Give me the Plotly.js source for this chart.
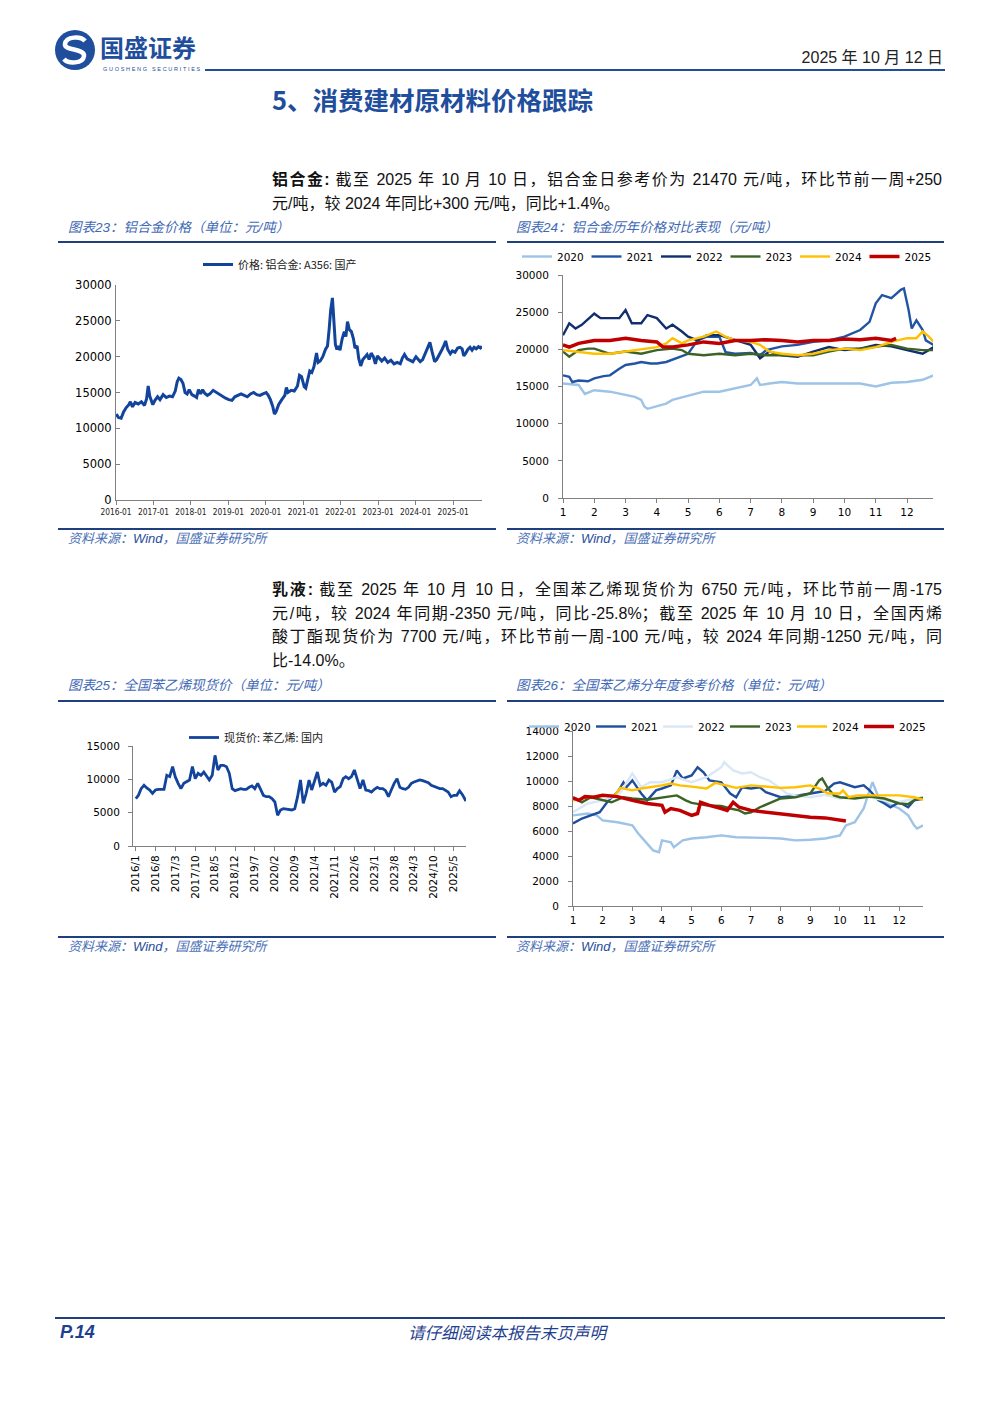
<!DOCTYPE html>
<html><head><meta charset="utf-8">
<script src="https://cdn.plot.ly/plotly-3.0.1.min.js"></script>
<style>
html,body{margin:0;padding:0;background:#fff;}
#page{position:relative;width:1000px;height:1414px;overflow:hidden;background:#fff;}
#plot{position:absolute;left:0;top:0;width:1000px;height:1414px;z-index:0;}
.t{position:absolute;white-space:nowrap;font-family:"Liberation Sans","Noto Sans CJK SC",sans-serif;z-index:2;}
.rule{position:absolute;z-index:2;background:#1F3F7F;}
.cap{font-size:13.5px;font-style:italic;color:#3F69B5;line-height:16px;}
.src{font-size:13px;font-style:italic;color:#4A6FB5;line-height:16px;}
.para{font-size:16px;color:#111;line-height:22px;width:670px;text-align:justify;}
.full{text-align-last:justify;}
</style></head>
<body><div id="page">
<div id="plot"></div>

<svg class="t" style="left:54px;top:29px" width="42" height="42" viewBox="0 0 42 42">
  <circle cx="21" cy="21" r="20" fill="#1F4E9C"/>
  <path d="M31 12 C27 7,12 7,11 15 C10 22,31 19,30 27 C29 35,14 35,10 30" stroke="#fff" stroke-width="4.5" fill="none"/>
</svg>
<div class="t" style="left:100px;top:35px;font-size:24px;font-weight:bold;color:#1F4E9C;line-height:24px;font-family:'Noto Sans CJK SC';">国盛证券</div>
<div class="t" style="left:103px;top:66px;font-size:5.5px;color:#1F4E9C;letter-spacing:1.7px;line-height:6px;">GUOSHENG SECURITIES</div>
<div class="t" style="right:57px;top:48px;font-size:16px;color:#222;line-height:20px;">2025 年 10 月 12 日</div>
<div class="rule" style="left:205px;top:69px;width:740px;height:1.5px;background:#1F4E9C;"></div>
<div class="t" style="left:272px;top:84px;font-size:25.5px;font-weight:bold;color:#1F4E9C;line-height:30px;font-family:'Noto Sans CJK SC';">5、消费建材原材料价格跟踪</div>

<div class="t para full" style="left:272px;top:169px;"><b>铝合金:</b> 截至 2025 年 10 月 10 日，铝合金日参考价为 21470 元/吨，环比节前一周+250</div>
<div class="t para" style="left:272px;top:193px;">元/吨，较 2024 年同比+300 元/吨，同比+1.4%。</div>

<div class="t cap" style="left:68px;top:220px;">图表23：铝合金价格（单位：元/吨）</div>
<div class="t cap" style="left:516px;top:220px;">图表24：铝合金历年价格对比表现（元/吨）</div>
<div class="rule" style="left:58px;top:241px;width:438px;height:2px;"></div>
<div class="rule" style="left:507px;top:241px;width:437px;height:2px;"></div>
<div class="rule" style="left:58px;top:528px;width:438px;height:2px;"></div>
<div class="rule" style="left:507px;top:528px;width:437px;height:2px;"></div>
<div class="t src" style="left:68px;top:531px;">资料来源：<span style="color:#1F4E9C">Wind</span>，国盛证券研究所</div>
<div class="t src" style="left:516px;top:531px;">资料来源：<span style="color:#1F4E9C">Wind</span>，国盛证券研究所</div>

<div class="t para full" style="left:272px;top:579px;"><b>乳液:</b> 截至 2025 年 10 月 10 日，全国苯乙烯现货价为 6750 元/吨，环比节前一周-175</div>
<div class="t para full" style="left:272px;top:603px;">元/吨，较 2024 年同期-2350 元/吨，同比-25.8%；截至 2025 年 10 月 10 日，全国丙烯</div>
<div class="t para full" style="left:272px;top:626px;">酸丁酯现货价为 7700 元/吨，环比节前一周-100 元/吨，较 2024 年同期-1250 元/吨，同</div>
<div class="t para" style="left:272px;top:650px;">比-14.0%。</div>

<div class="t cap" style="left:68px;top:678px;">图表25：全国苯乙烯现货价（单位：元/吨）</div>
<div class="t cap" style="left:516px;top:678px;">图表26：全国苯乙烯分年度参考价格（单位：元/吨）</div>
<div class="rule" style="left:58px;top:700px;width:438px;height:2px;"></div>
<div class="rule" style="left:507px;top:700px;width:437px;height:2px;"></div>
<div class="rule" style="left:58px;top:936px;width:438px;height:2px;"></div>
<div class="rule" style="left:507px;top:936px;width:437px;height:2px;"></div>
<div class="t src" style="left:68px;top:939px;">资料来源：<span style="color:#1F4E9C">Wind</span>，国盛证券研究所</div>
<div class="t src" style="left:516px;top:939px;">资料来源：<span style="color:#1F4E9C">Wind</span>，国盛证券研究所</div>

<div class="rule" style="left:55px;top:1317px;width:890px;height:2px;"></div>
<div class="t" style="left:60px;top:1321px;font-size:18px;font-weight:bold;font-style:italic;color:#1F3F8F;line-height:22px;">P.14</div>
<div class="t" style="left:408px;top:1322px;font-size:16.5px;font-style:italic;color:#1F3F8F;line-height:20px;font-family:'Noto Sans CJK SC';">请仔细阅读本报告末页声明</div>
</div>
<script>
// ---------- Chart 23: aluminium alloy A356 price ----------
const alDates = ['2016-01-04','2016-01-25','2016-02-20','2016-03-15','2016-04-10','2016-05-05','2016-05-20','2016-06-10','2016-07-05','2016-08-05','2016-09-05','2016-10-05','2016-10-25','2016-11-10','2016-11-25','2016-12-10','2016-12-25',
'2017-01-15','2017-02-10','2017-03-05','2017-04-05','2017-05-05','2017-06-05','2017-07-05','2017-08-01','2017-08-20','2017-09-05','2017-09-25','2017-10-15','2017-11-05','2017-11-25','2017-12-15',
'2018-01-10','2018-02-05','2018-02-25','2018-03-15','2018-04-05','2018-04-25','2018-05-15','2018-06-10','2018-07-05','2018-08-05','2018-09-05','2018-10-05','2018-11-05','2018-12-05',
'2019-01-05','2019-02-05','2019-03-05','2019-04-05','2019-05-05','2019-06-05','2019-07-05','2019-08-05','2019-09-05','2019-10-05','2019-11-05','2019-12-05',
'2020-01-05','2020-01-25','2020-02-15','2020-03-10','2020-03-25','2020-04-10','2020-05-05','2020-06-05','2020-07-05','2020-07-20','2020-08-05','2020-09-05','2020-10-05','2020-11-05','2020-11-25','2020-12-15',
'2021-01-10','2021-01-25','2021-02-15','2021-03-05','2021-03-25','2021-04-15','2021-05-10','2021-05-25','2021-06-15','2021-07-10','2021-08-05','2021-08-25','2021-09-10','2021-09-25','2021-10-12','2021-10-25','2021-11-10','2021-11-25','2021-12-10','2021-12-25',
'2022-01-15','2022-02-05','2022-02-20','2022-03-08','2022-03-25','2022-04-15','2022-05-05','2022-05-20','2022-06-10','2022-06-25','2022-07-15','2022-08-05','2022-08-25','2022-09-15','2022-10-05','2022-10-25','2022-11-15','2022-12-05','2022-12-25',
'2023-01-15','2023-02-05','2023-03-05','2023-04-05','2023-05-05','2023-06-05','2023-07-05','2023-08-05','2023-08-25','2023-09-15','2023-10-10','2023-11-05','2023-12-05',
'2024-01-05','2024-01-25','2024-02-15','2024-03-10','2024-04-05','2024-04-25','2024-05-20','2024-06-10','2024-07-05','2024-07-25','2024-08-20','2024-09-15','2024-10-05','2024-10-20','2024-11-10','2024-12-05','2024-12-25',
'2025-01-20','2025-02-15','2025-03-10','2025-03-30','2025-04-15','2025-05-05','2025-05-25','2025-06-15','2025-07-05','2025-07-25','2025-08-15','2025-09-05','2025-09-25','2025-10-10'];
const alPrice = [12000,11500,11400,12300,12900,13300,13700,13000,13600,13400,13700,13200,14100,15900,14500,14000,13300,
13900,14400,14000,14700,14300,14500,14400,15200,16500,17000,16800,16300,15000,14800,15400,
14700,14500,14300,15400,14800,15400,14900,14600,14800,15300,15000,14700,14400,14200,
14000,13900,14400,14600,14800,14600,14400,14800,15000,14700,14600,14800,
15000,14600,14000,13000,12000,12300,13300,14000,14600,15700,15000,15300,15200,15900,17400,17200,
15800,15600,16800,18000,17800,18600,20500,19200,19400,20000,21000,21500,23800,26500,28200,24500,21700,21000,21500,20900,
22500,23500,22800,24900,23800,23500,22500,21200,21500,19800,18700,19600,19900,20300,19600,20500,20000,19000,20100,
19800,19400,19800,19200,19500,19000,19200,19000,19800,20300,19700,19500,19300,
20000,19700,19300,19600,20400,21100,22000,20700,19300,19600,20200,21000,21600,22200,21000,20400,20800,
20600,21200,21300,21100,20100,20500,21000,21300,20900,21300,21100,21400,21200,21470];
const alYearTicks = ['2016-01-01','2017-01-01','2018-01-01','2019-01-01','2020-01-01','2021-01-01','2022-01-01','2023-01-01','2024-01-01','2025-01-01'];
const alYearLabels = ['2016-01','2017-01','2018-01','2019-01','2020-01','2021-01','2022-01','2023-01','2024-01','2025-01'];

// ---------- Chart 24: aluminium alloy by year (x = month) ----------
const monthTicks = [1,2,3,4,5,6,7,8,9,10,11,12];
const al2020X = [1,1.5,1.7,2,2.5,3,3.3,3.5,3.6,3.7,4,4.3,4.5,5,5.5,6,6.5,7,7.2,7.3,7.6,8,8.5,9,9.5,10,10.5,11,11.5,12,12.5,12.85];
const al2020Y = [15400,15200,14000,14500,14300,13800,13600,13200,12300,12000,12300,12700,13200,13800,14300,14300,14700,15200,16100,15200,15400,15600,15400,15400,15300,15300,15400,15000,15500,15600,15900,16500];
const al2021X = [1,1.2,1.3,1.5,1.8,2,2.3,2.5,2.8,3,3.3,3.5,3.8,4,4.3,4.6,5,5.3,5.6,6,6.2,6.5,7,7.3,7.5,8,8.5,9,9.5,10,10.5,10.8,11,11.2,11.5,11.8,11.9,12.05,12.15,12.3,12.5,12.6,12.85];
const al2021Y = [16500,16300,15600,15800,15700,16100,16400,16500,17400,17900,18100,18300,18100,18100,18300,18800,19400,21200,21700,21700,19600,19400,19500,19200,19900,20400,20600,21000,21200,21700,22600,23700,26200,27300,26900,28000,28200,25300,22800,23900,22600,21200,20600];
const al2022X = [1,1.2,1.4,1.6,2,2.2,2.8,3,3.2,3.5,3.7,4,4.3,4.5,4.8,5,5.3,5.6,6,6.5,7,7.3,7.6,8,8.5,9,9.5,10,10.5,11,11.5,12,12.5,12.85];
const al2022Y = [21900,23500,22800,23300,24800,24200,24200,25300,23500,23500,24600,24200,22800,23300,22400,21700,21200,21900,21900,21200,20600,18800,19700,19200,19000,19700,20300,19900,20100,20600,20400,19900,19400,20300];
const al2023X = [1,1.2,1.5,1.8,2,2.5,3,3.5,4,4.5,4.8,5,5.5,6,6.5,7,7.5,8,8.5,9,9.5,10,10.5,11,11.5,12,12.5,12.85];
const al2023Y = [19700,19000,19900,20100,20100,19400,19700,19400,19900,20100,19900,19400,19200,19400,19200,19400,19200,19200,19200,19200,19700,20100,20100,20300,20600,20100,19900,19900];
const al2024X = [1,1.5,2,2.5,3,3.5,4,4.3,4.5,4.8,5,5.5,5.9,6.2,6.5,7,7.3,7.6,8,8.5,9,9.5,10,10.5,11,11.5,12,12.3,12.5,12.7,12.85];
const al2024Y = [19900,19700,19400,19400,19700,20100,20300,20800,21500,20800,21200,21700,22400,21700,21200,21000,20600,19700,19400,19200,19400,19900,20100,19900,20300,21000,21500,21500,22400,21700,21000];
const al2025X = [1,1.2,1.5,2,2.5,3,3.5,4,4.2,4.5,5,5.5,6,6.5,7,7.5,8,8.5,9,9.5,10,10.5,11,11.5,11.65];
const al2025Y = [20600,20300,20800,21200,21200,21500,21200,21000,20300,20300,20600,21000,20800,21200,21200,21300,21200,21000,21200,21200,21400,21300,21500,21200,21470];

// ---------- Chart 25: styrene spot price ----------
const stDates = ['2016-01-04','2016-02-01','2016-03-01','2016-04-01','2016-05-01','2016-06-01','2016-07-01','2016-08-01','2016-09-01','2016-10-01','2016-11-01','2016-12-01',
'2017-01-01','2017-02-01','2017-03-01','2017-04-01','2017-05-01','2017-06-01','2017-07-01','2017-08-01','2017-09-01','2017-10-01','2017-11-01','2017-12-01',
'2018-01-01','2018-02-01','2018-03-01','2018-04-01','2018-05-01','2018-06-01','2018-07-01','2018-08-01','2018-09-01','2018-10-01','2018-11-01','2018-12-01',
'2019-01-01','2019-02-01','2019-03-01','2019-04-01','2019-05-01','2019-06-01','2019-07-01','2019-08-01','2019-09-01','2019-10-01','2019-11-01','2019-12-01',
'2020-01-01','2020-02-01','2020-03-01','2020-04-01','2020-05-01','2020-06-01','2020-07-01','2020-08-01','2020-09-01','2020-10-01','2020-11-01','2020-12-01',
'2021-01-01','2021-02-01','2021-03-01','2021-04-01','2021-05-01','2021-06-01','2021-07-01','2021-08-01','2021-09-01','2021-10-01','2021-11-01','2021-12-01',
'2022-01-01','2022-02-01','2022-03-01','2022-04-01','2022-05-01','2022-06-01','2022-07-01','2022-08-01','2022-09-01','2022-10-01','2022-11-01','2022-12-01',
'2023-01-01','2023-02-01','2023-03-01','2023-04-01','2023-05-01','2023-06-01','2023-07-01','2023-08-01','2023-09-01','2023-10-01','2023-11-01','2023-12-01',
'2024-01-01','2024-02-01','2024-03-01','2024-04-01','2024-05-01','2024-06-01','2024-07-01','2024-08-01','2024-09-01','2024-10-01','2024-11-01','2024-12-01',
'2025-01-01','2025-02-01','2025-03-01','2025-04-01','2025-05-01','2025-06-01','2025-07-01','2025-08-01','2025-08-20','2025-09-07'];
const stPrice = [7100,7600,8600,9100,8700,8400,7900,8400,8500,8500,8500,10600,
10400,11900,10400,9400,8600,9400,9600,9900,11900,10100,10900,10600,
11100,10500,9900,10600,13600,11400,12100,12100,11900,10900,8600,8300,
8400,8600,8500,8500,8800,9000,8600,9400,8500,7600,7400,7400,
7100,6600,4600,5400,5600,5500,5500,5400,5600,7400,9900,6400,
7900,9900,8400,9900,11100,9100,9400,9100,9900,9600,8100,8600,
8900,10100,10400,10100,10400,11400,9900,8600,9900,8400,8300,8100,
8500,8800,8600,8600,8300,7400,8400,9400,10100,8800,8600,8500,
8800,9400,9600,9800,9900,9800,9600,9500,9100,8900,8800,8600,
8600,8400,8100,7400,7600,7600,8300,7700,7300,6750];
const stTicks = ['2016-01-01','2016-08-01','2017-03-01','2017-10-01','2018-05-01','2018-12-01','2019-07-01','2020-02-01','2020-09-01','2021-04-01','2021-11-01','2022-06-01','2023-01-01','2023-08-01','2024-03-01','2024-10-01','2025-05-01'];
const stTickLabels = ['2016/1','2016/8','2017/3','2017/10','2018/5','2018/12','2019/7','2020/2','2020/9','2021/4','2021/11','2022/6','2023/1','2023/8','2024/3','2024/10','2025/5'];

// ---------- Chart 26: styrene by year (x = month) ----------
const st2020X = [1,1.5,1.8,2,2.5,3,3.2,3.5,3.7,3.9,4,4.3,4.4,4.7,5,5.5,6,6.5,7,7.5,8,8.5,9,9.5,10,10.2,10.5,10.8,11,11.1,11.3,11.5,12,12.3,12.5,12.6,12.8];
const st2020Y = [7250,7400,7250,6850,6700,6450,5800,5000,4450,4300,5250,5100,4700,5250,5400,5500,5650,5500,5500,5450,5400,5250,5300,5400,5650,6450,6700,7800,9250,9900,8700,8300,7800,7250,6450,6200,6450];
const st2021X = [1,1.3,1.6,1.9,2.2,2.5,2.7,2.8,3,3.3,3.5,3.8,4,4.3,4.5,4.7,5,5.2,5.4,5.6,6,6.3,6.5,6.7,7,7.3,7.5,8,8.5,9,9.5,9.8,10,10.5,10.8,11,11.3,11.5,11.7,12,12.3,12.5,12.85];
const st2021Y = [6600,7000,7250,7500,8450,9100,9900,9500,10050,9000,8450,9250,9400,9650,10850,10200,10450,11100,10700,10050,9900,9000,8700,9500,9400,9500,9100,8700,8800,9000,9200,9800,9900,9500,9650,9250,8450,8200,7900,8300,7900,8450,8600];
const st2022X = [1,1.5,2,2.3,2.6,2.8,3,3.3,3.6,4,4.5,5,5.5,6,6.1,6.4,6.7,7,7.3,7.6,8,8.2,8.5,9,9.5,10,10.5,11,11.5,12,12.5,12.85];
const st2022Y = [7500,8200,8450,8700,9100,9800,10600,9500,9900,9900,10300,9900,10300,11100,11500,10850,10600,10700,10300,10050,9400,9000,8850,8700,8900,8600,8800,8700,8450,8300,8600,8700];
const st2023X = [1,1.3,1.6,2,2.3,2.7,3,3.5,4,4.5,4.8,5,5.5,6,6.3,6.6,6.8,7,7.3,7.6,8,8.5,9,9.3,9.4,9.6,9.8,10,10.5,11,11.5,12,12.3,12.6,12.85];
const st2023Y = [8700,8300,8700,8450,8300,8700,8600,8500,8700,8850,8450,8250,8050,8000,7800,7650,7400,7500,7900,8200,8600,8700,9000,10050,10200,9400,8850,8700,8600,8750,8600,8200,8150,8600,8650];
const st2024X = [1,1.5,2,2.4,2.6,3,3.3,3.6,4,4.3,4.6,5,5.5,5.8,6,6.5,7,7.5,8,8.5,9,9.3,9.6,10,10.1,10.3,10.6,11,11.5,12,12.5,12.85];
const st2024Y = [8450,8700,8850,8850,9450,9250,9400,9500,9650,9800,9650,9550,9400,9850,9750,9450,9650,9550,9450,9500,9650,9400,9000,9000,9250,8700,8850,8850,8850,8850,8700,8500];
const st2025X = [1,1.2,1.4,1.7,2,2.5,3,3.5,4,4.1,4.3,4.6,5,5.2,5.3,5.6,6,6.2,6.4,6.6,7,7.5,8,8.5,9,9.5,10,10.2];
const st2025Y = [8650,8450,8750,8700,8850,8750,8450,8200,8050,7500,7800,7650,7250,7400,8300,8050,7800,7650,8300,7900,7650,7500,7400,7250,7100,7050,6900,6800];

const yearNames = ['2020','2021','2022','2023','2024','2025'];
const alColors = ['#9DC3E6','#2155A4','#132E6E','#3B6326','#FFC000','#C00000'];
const stColors = ['#9DC3E6','#1F4E9C','#DAE7F5','#3B6326','#FFC000','#C00000'];

const H = 1414;
const py = v => 1 - v / H;
const tickFont = s => ({family:'DejaVu Sans, Verdana, sans-serif', size:s, color:'#000'});

const traces = [];
traces.push({x: alDates, y: alPrice, type:'scatter', mode:'lines', name:'价格: 铝合金: A356: 国产',
  line:{color:'#13449B', width:3}, xaxis:'x', yaxis:'y', legend:'legend', showlegend:true});
const alX = [al2020X, al2021X, al2022X, al2023X, al2024X, al2025X];
const alY = [al2020Y, al2021Y, al2022Y, al2023Y, al2024Y, al2025Y];
for (let i = 0; i < 6; i++) {
  traces.push({x: alX[i], y: alY[i], type:'scatter', mode:'lines', name: yearNames[i],
    line:{color: alColors[i], width: i === 5 ? 3.5 : 2.4}, xaxis:'x2', yaxis:'y2', legend:'legend2'});
}
traces.push({x: stDates, y: stPrice, type:'scatter', mode:'lines', name:'现货价: 苯乙烯: 国内',
  line:{color:'#13449B', width:2.8}, xaxis:'x3', yaxis:'y3', legend:'legend3', showlegend:true});
const stX = [st2020X, st2021X, st2022X, st2023X, st2024X, st2025X];
const stY = [st2020Y, st2021Y, st2022Y, st2023Y, st2024Y, st2025Y];
for (let i = 0; i < 6; i++) {
  traces.push({x: stX[i], y: stY[i], type:'scatter', mode:'lines', name: yearNames[i],
    line:{color: stColors[i], width: i === 5 ? 3.5 : 2.4}, xaxis:'x4', yaxis:'y4', legend:'legend4'});
}

const axBase = {showline:true, linecolor:'#808080', linewidth:1, showgrid:false, zeroline:false, tickcolor:'#808080', fixedrange:true};

const layout = {
  width:1000, height:1414, margin:{l:0,r:0,t:0,b:0},
  paper_bgcolor:'rgba(0,0,0,0)', plot_bgcolor:'rgba(0,0,0,0)',
  font:{family:'DejaVu Sans, Noto Sans CJK SC', color:'#000'},
  xaxis: Object.assign({}, axBase, {type:'date', domain:[0.116,0.482], anchor:'y', range:['2016-01-01','2025-10-10'],
    tickmode:'array', tickvals: alYearTicks, ticktext: alYearLabels, ticks:'outside', ticklen:4,
    tickfont:{family:'DejaVu Sans Condensed, DejaVu Sans', size:8.3, color:'#222'}}),
  yaxis: Object.assign({}, axBase, {domain:[py(500), py(285)], anchor:'x', range:[0,30000], dtick:5000, tickformat:'d',
    ticks:'inside', ticklen:4, ticklabelstandoff:1, tickfont: tickFont(11.5)}),
  xaxis2: Object.assign({}, axBase, {domain:[0.563,0.933], anchor:'y2', range:[1,12.83], tickmode:'array', tickvals: monthTicks,
    ticks:'outside', ticklen:4, tickfont: tickFont(10.5)}),
  yaxis2: Object.assign({}, axBase, {domain:[py(498), py(275)], anchor:'x2', range:[0,30000], dtick:5000, tickformat:'d',
    ticks:'outside', ticklen:4, ticklabelstandoff:7, tickfont: tickFont(10.5)}),
  xaxis3: Object.assign({}, axBase, {type:'date', domain:[0.133,0.466], anchor:'y3', range:['2015-12-05','2025-09-08'],
    tickmode:'array', tickvals: stTicks, ticktext: stTickLabels, tickangle:-90, ticks:'outside', ticklen:4, tickfont: tickFont(10.5)}),
  yaxis3: Object.assign({}, axBase, {domain:[py(846), py(746)], anchor:'x3', range:[0,15000], dtick:5000, tickformat:'d',
    ticks:'outside', ticklen:4, ticklabelstandoff:6, tickfont: tickFont(10.5)}),
  xaxis4: Object.assign({}, axBase, {domain:[0.573,0.923], anchor:'y4', range:[1,12.8], tickmode:'array', tickvals: monthTicks,
    ticks:'outside', ticklen:4, tickfont: tickFont(10.5)}),
  yaxis4: Object.assign({}, axBase, {domain:[py(906), py(731)], anchor:'x4', range:[0,14000], dtick:2000, tickformat:'d',
    ticks:'outside', ticklen:4, ticklabelstandoff:7, tickfont: tickFont(10.5)}),
  legend: {x:0.198, y:py(250), xanchor:'left', yanchor:'top', orientation:'h', bgcolor:'rgba(0,0,0,0)',
    font:{family:'Noto Sans CJK SC', size:11, color:'#222'}},
  legend2: {x:0.517, y:py(242), xanchor:'left', yanchor:'top', orientation:'h', bgcolor:'rgba(0,0,0,0)',
    font:{family:'DejaVu Sans', size:10.5, color:'#000'}, traceorder:'normal', entrywidth:24.5, entrywidthmode:'pixels'},
  legend3: {x:0.184, y:py(723), xanchor:'left', yanchor:'top', orientation:'h', bgcolor:'rgba(0,0,0,0)',
    font:{family:'Noto Sans CJK SC', size:11, color:'#222'}},
  legend4: {x:0.524, y:py(712), xanchor:'left', yanchor:'top', orientation:'h', bgcolor:'rgba(0,0,0,0)',
    font:{family:'DejaVu Sans', size:10.5, color:'#000'}, traceorder:'normal', entrywidth:22, entrywidthmode:'pixels'},
  showlegend:true
};

Plotly.newPlot('plot', traces, layout, {staticPlot:true, displayModeBar:false});
</script>
</body></html>
